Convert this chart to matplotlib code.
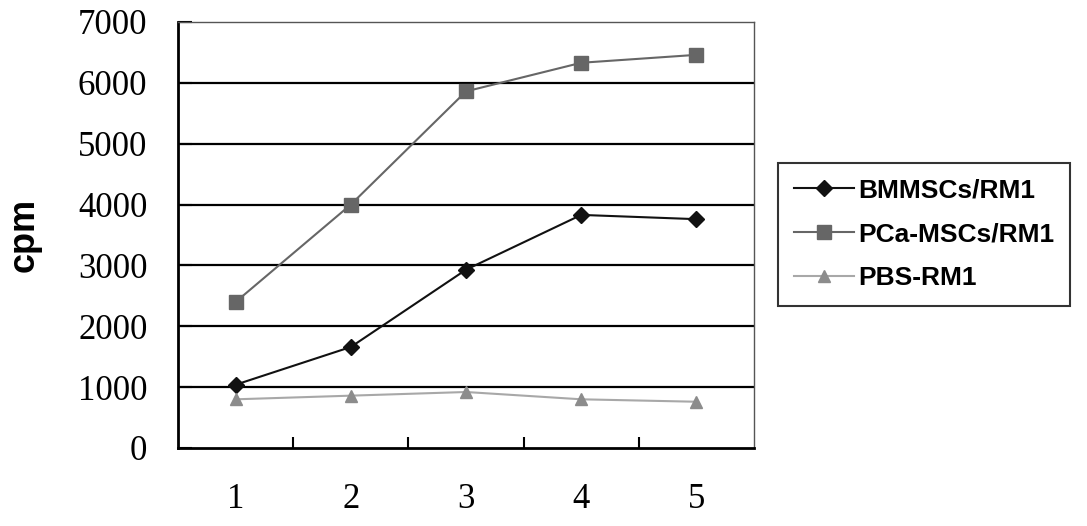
import numpy as np
import matplotlib
matplotlib.use("Agg")
import matplotlib.pyplot as plt

# values
days = [1, 2, 3, 4, 5]
bmmsc = [1040, 1660, 2930, 3830, 3760]
pca_msc = [2400, 4000, 5860, 6330, 6460]
pbs = [800, 860, 920, 800, 760]
series_names = ["BMMSCs/RM1", "PCa-MSCs/RM1", "PBS-RM1"]
y_ticks = [0, 1000, 2000, 3000, 4000, 5000, 6000, 7000]

fig = plt.figure(figsize=(10.87, 5.26), dpi=100)
ax = fig.add_axes([0.1638, 0.1483, 0.5299, 0.8099])

ax.plot(days, bmmsc, color="#111111", lw=1.5, marker="D", ms=8,
        label=series_names[0], zorder=4)
ax.plot(days, pca_msc, color="#666666", lw=1.5, marker="s", ms=10,
        label=series_names[1], zorder=4)
ax.plot(days, pbs, color="#a8a8a8", lw=1.5, marker="^", ms=9,
        mfc="#8c8c8c", mec="#8c8c8c", label=series_names[2], zorder=4)

ax.set_xlim(0.5, 5.5)
ax.set_ylim(0, 7000)
ax.set_xticks(days)
ax.set_xticks([1.5, 2.5, 3.5, 4.5], minor=True)
ax.set_yticks(y_ticks)
ax.tick_params(axis="x", which="major", length=0, pad=25)
ax.tick_params(axis="x", which="minor", direction="in", length=8, width=1.5)
ax.tick_params(axis="y", direction="in", length=10, width=1.5, pad=22)

tick_font = {"family": "Liberation Serif", "size": 25}
ax.set_xticklabels([str(d) for d in days], fontdict=tick_font)
ax.set_yticklabels([str(v) for v in y_ticks], fontdict=tick_font)

for v in y_ticks[1:-1]:
    ax.axhline(v, color="black", lw=1.6, zorder=1)

for s in ["left", "bottom"]:
    ax.spines[s].set_linewidth(2)
    ax.spines[s].set_color("black")
for s in ["top", "right"]:
    ax.spines[s].set_linewidth(1)
    ax.spines[s].set_color("#555555")

ax.set_ylabel("cpm", fontfamily="Liberation Sans", fontweight="bold",
              fontsize=26, labelpad=26)

leg = fig.legend(loc="center", bbox_to_anchor=(0.850, 0.5542),
                 prop={"family": "Liberation Sans", "weight": "bold", "size": 19},
                 frameon=True, fancybox=False, edgecolor="black",
                 handlelength=2.3, handletextpad=0.15, labelspacing=0.75,
                 borderpad=0.6)
leg.get_frame().set_linewidth(1.5)

fig.savefig("out.png", dpi=100)
